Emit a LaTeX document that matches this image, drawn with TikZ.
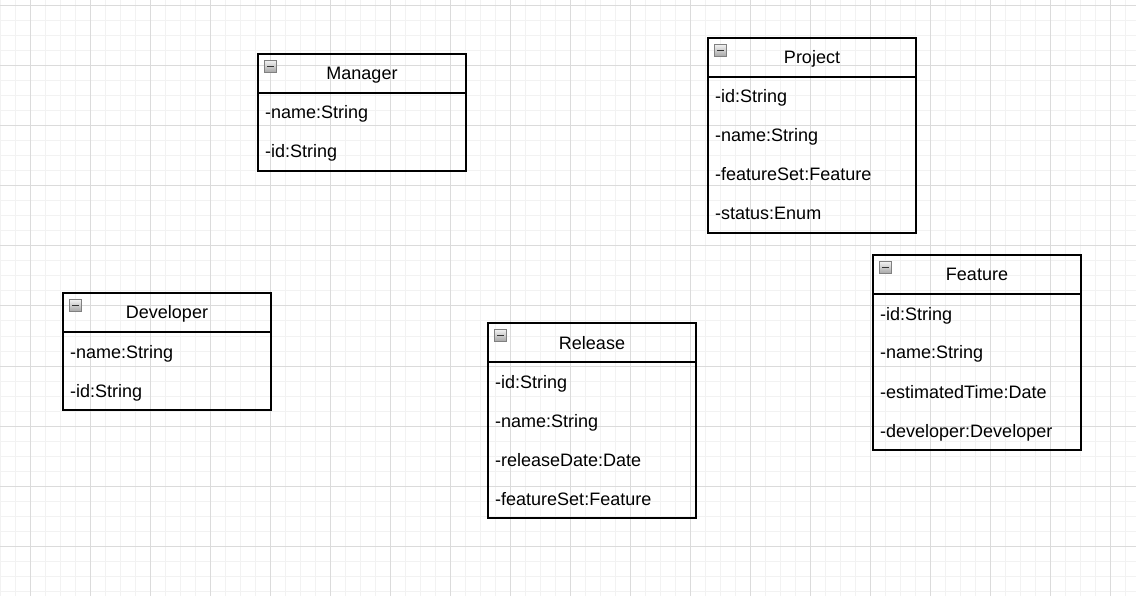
\documentclass[tikz,border=0pt]{standalone}
\usepackage{fontspec}
\setmainfont{Liberation Sans}
\usetikzlibrary{positioning}

\begin{document}
\begin{tikzpicture}[x=1pt, y=-1pt,
  minorgrid/.style={draw=black!5, line width=1pt},
  majorgrid/.style={draw=black!14, line width=1pt},
  classhead/.style={draw, line width=2pt, minimum width=208pt, minimum height=39pt,
    inner sep=0pt, outer sep=0pt, anchor=north west, font=\fontsize{18}{20}\selectfont,
    text height=13pt, text depth=0pt},
  classbody/.style={draw, line width=2pt, minimum width=208pt, inner sep=0pt, outer sep=0pt},
  attr/.style={anchor=west, inner sep=0pt, font=\fontsize{18}{20}\selectfont,
    text height=13pt, text depth=0pt},
  foldicon/.style={draw=black!50, line width=0.8pt, top color=black!5, bottom color=black!35,
    minimum size=12pt, inner sep=0pt, anchor=north west},
  folddash/.style={draw=black!80, line width=1.4pt}
]

%% Page and background grid
\useasboundingbox (0,0) rectangle (1136,596);
\fill[white] (0,0) rectangle (1136,596);
\foreach \x in {0,15,...,1135} \draw[minorgrid] (\x,0) -- (\x,596);
\foreach \y in {6,21,...,596} \draw[minorgrid] (0,\y) -- (1136,\y);
\foreach \x in {30,90,...,1135} \draw[majorgrid] (\x,0) -- (\x,596);
\foreach \y in {6,66,...,596} \draw[majorgrid] (0,\y) -- (1136,\y);

%% Manager
\node[classhead] (manager) at (258,54) {Manager};
\node[classbody, minimum height=78pt, below=0pt of manager] (managerbody) {};
\node[foldicon] (managericon) at ([xshift=6pt,yshift=-6pt]manager.north west) {};
\draw[folddash] ([xshift=3pt]managericon.west) -- ([xshift=-3pt]managericon.east);
\foreach \txt [count=\i] in {-name:String, -id:String}
  \node[attr] at ([xshift=7pt,yshift={-19.5-39*(\i-1)}]managerbody.north west) {\txt};

%% Project
\node[classhead] (project) at (708,38) {Project};
\node[classbody, minimum height=156pt, below=0pt of project] (projectbody) {};
\node[foldicon] (projecticon) at ([xshift=6pt,yshift=-6pt]project.north west) {};
\draw[folddash] ([xshift=3pt]projecticon.west) -- ([xshift=-3pt]projecticon.east);
\foreach \txt [count=\i] in {-id:String, -name:String, -featureSet:Feature, -status:Enum}
  \node[attr] at ([xshift=7pt,yshift={-19.5-39*(\i-1)}]projectbody.north west) {\txt};

%% Developer
\node[classhead] (developer) at (63,293) {Developer};
\node[classbody, minimum height=78pt, below=0pt of developer] (developerbody) {};
\node[foldicon] (developericon) at ([xshift=6pt,yshift=-6pt]developer.north west) {};
\draw[folddash] ([xshift=3pt]developericon.west) -- ([xshift=-3pt]developericon.east);
\foreach \txt [count=\i] in {-name:String, -id:String}
  \node[attr] at ([xshift=7pt,yshift={-19.5-39*(\i-1)}]developerbody.north west) {\txt};

%% Release
\node[classhead] (release) at (488,323) {Release};
\node[classbody, minimum height=156pt, below=0pt of release] (releasebody) {};
\node[foldicon] (releaseicon) at ([xshift=6pt,yshift=-6pt]release.north west) {};
\draw[folddash] ([xshift=3pt]releaseicon.west) -- ([xshift=-3pt]releaseicon.east);
\foreach \txt [count=\i] in {-id:String, -name:String, -releaseDate:Date, -featureSet:Feature}
  \node[attr] at ([xshift=7pt,yshift={-19.5-39*(\i-1)}]releasebody.north west) {\txt};

%% Feature
\node[classhead] (feature) at (873,255) {Feature};
\node[classbody, minimum height=156pt, below=0pt of feature] (featurebody) {};
\node[foldicon] (featureicon) at ([xshift=6pt,yshift=-6pt]feature.north west) {};
\draw[folddash] ([xshift=3pt]featureicon.west) -- ([xshift=-3pt]featureicon.east);
\foreach \txt [count=\i] in {-id:String, -name:String, -estimatedTime:Date, -developer:Developer}
  \node[attr] at ([xshift=7pt,yshift={-19.5-39*(\i-1)}]featurebody.north west) {\txt};

\end{tikzpicture}
\end{document}
